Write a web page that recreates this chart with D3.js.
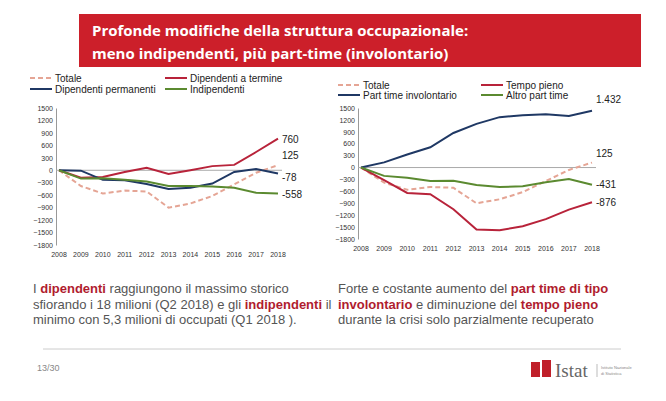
<!DOCTYPE html><html><head><meta charset="utf-8">
<script src="https://cdn.jsdelivr.net/npm/d3@7"></script>
<style>body{margin:0;background:#fff;font-family:"Liberation Sans",Arial,sans-serif}</style></head><body>
<svg id="s" width="666" height="401"></svg>
<script>
const years=[2008,2009,2010,2011,2012,2013,2014,2015,2016,2017,2018];
const yTicks=[1500,1200,900,600,300,0,-300,-600,-900,-1200,-1500,-1800];
const totale=[0,-380,-560,-490,-510,-900,-800,-620,-340,-60,125];
const dipTermine=[0,-180,-160,-40,60,-90,0,100,130,440,760];
const dipPermanenti=[0,-10,-230,-240,-330,-450,-420,-320,-40,30,-78];
const indipendenti=[0,-200,-190,-230,-270,-380,-380,-390,-420,-540,-558];
const tempoPieno=[0,-320,-640,-670,-1050,-1560,-1580,-1480,-1300,-1060,-876];
const ptInvol=[0,130,330,510,870,1100,1270,1320,1340,1300,1432];
const altroPT=[0,-210,-260,-340,-330,-440,-490,-470,-370,-290,-431];
const RED="#b8233a",BLUE="#1f3864",GREEN="#5b8a30",PINK="#e5a595";
const svg=d3.select("#s");
svg.append("rect").attr("x",79).attr("y",14).attr("width",562).attr("height",53).attr("fill","#cc1f2a");
svg.append("text").attr("x",92).attr("y",36).attr("fill","#fff").attr("font-family","Open Sans").attr("font-weight","bold").attr("font-size",15).text("Profonde modifiche della struttura occupazionale:");
svg.append("text").attr("x",92).attr("y",59).attr("fill","#fff").attr("font-family","Open Sans").attr("font-weight","bold").attr("font-size",15).text("meno indipendenti, più part-time (involontario)");

function chart(x0,x1,y0,y1,series,legend,labels){
  const x=d3.scalePoint().domain(years).range([x0,x1]);
  const y=d3.scaleLinear().domain([-1800,1500]).range([y1,y0]);
  const g=svg.append("g");
  const ax=g.append("g").attr("transform",`translate(${x0-3},0)`).call(d3.axisLeft(y).tickValues(yTicks).tickFormat(d3.format("d")).tickSize(0).tickPadding(3));
  ax.select(".domain").attr("stroke","#999");
  ax.selectAll("text").attr("font-size",7).attr("fill","#333");
  g.append("line").attr("x1",x0-3).attr("x2",x1+4).attr("y1",y(0)).attr("y2",y(0)).attr("stroke","#aaa");
  g.selectAll(".yl").data(years).join("text").attr("x",d=>x(d)).attr("y",y1+12).attr("text-anchor","middle").attr("font-size",7).attr("fill","#333").text(d=>d);
  const line=d3.line().x((d,i)=>x(years[i])).y(d=>y(d));
  series.forEach(s=>g.append("path").attr("d",line(s.v)).attr("fill","none").attr("stroke",s.c).attr("stroke-width",2).attr("stroke-dasharray",s.dash?"5,3":null));
  legend.forEach(l=>{g.append("line").attr("x1",l.x).attr("x2",l.x+22).attr("y1",l.y).attr("y2",l.y).attr("stroke",l.c).attr("stroke-width",2).attr("stroke-dasharray",l.dash?"5,3":null);
    g.append("text").attr("x",l.x+25).attr("y",l.y+3.5).attr("font-size",10).attr("fill","#222").text(l.t);});
  labels.forEach(l=>g.append("text").attr("x",x(2018)+4).attr("y",y(l.v)+l.dy).attr("font-size",10).attr("fill","#222").text(l.t));
}
chart(59,278,108,245,[{v:totale,c:PINK,dash:1},{v:dipTermine,c:RED},{v:dipPermanenti,c:BLUE},{v:indipendenti,c:GREEN}],
 [{x:30,y:78,c:PINK,dash:1,t:"Totale"},{x:165,y:78,c:RED,t:"Dipendenti a termine"},{x:30,y:89,c:BLUE,t:"Dipendenti permanenti"},{x:165,y:89,c:GREEN,t:"Indipendenti"}],
 [{v:760,t:"760",dy:4},{v:125,t:"125",dy:-6},{v:-78,t:"-78",dy:7},{v:-558,t:"-558",dy:5}]);
chart(361,592,108,239,[{v:totale,c:PINK,dash:1},{v:tempoPieno,c:RED},{v:ptInvol,c:BLUE},{v:altroPT,c:GREEN}],
 [{x:338,y:85,c:PINK,dash:1,t:"Totale"},{x:481,y:85,c:RED,t:"Tempo pieno"},{x:338,y:95,c:BLUE,t:"Part time involontario"},{x:481,y:95,c:GREEN,t:"Altro part time"}],
 [{v:1432,t:"1.432",dy:-8},{v:125,t:"125",dy:-6},{v:-431,t:"-431",dy:3},{v:-876,t:"-876",dy:4}]);

function para(x,y,parts){
  parts.forEach((line,i)=>{const t=svg.append("text").attr("x",x).attr("y",y+i*15.5).attr("font-size",13).attr("fill","#555");
    line.forEach(p=>t.append("tspan").attr("fill",p[1]?"#b01c2e":"#555").attr("font-weight",p[1]?"bold":null).text(p[0]));});
}
para(33,293,[[["I "],["dipendenti",1],[" raggiungono il massimo storico"]],[["sfiorando i 18 milioni (Q2 2018) e gli "],["indipendenti",1],[" il"]],[["minimo con 5,3 milioni di occupati (Q1 2018 )."]]]);
para(338,293,[[["Forte e costante aumento del "],["part time di tipo",1]],[["involontario",1],[" e diminuzione del "],["tempo pieno",1]],[["durante la crisi solo parzialmente recuperato"]]]);
svg.append("line").attr("x1",43).attr("x2",621).attr("y1",349).attr("y2",349).attr("stroke","#ccc");
svg.append("text").attr("x",37).attr("y",371).attr("font-size",9).attr("fill","#888").text("13/30");
svg.append("rect").attr("x",531).attr("y",362).attr("width",9).attr("height",15).attr("fill","#c0202a");
svg.append("rect").attr("x",542).attr("y",360).attr("width",9).attr("height",17).attr("fill","#c0202a");
svg.append("text").attr("x",555).attr("y",377).attr("font-family","Liberation Serif").attr("font-size",19).attr("fill","#666").text("Istat");
svg.append("line").attr("x1",597).attr("x2",597).attr("y1",364).attr("y2",377).attr("stroke","#bbb");
svg.append("text").attr("x",601).attr("y",369).attr("font-size",4).attr("fill","#888").text("Istituto Nazionale");
svg.append("text").attr("x",601).attr("y",375).attr("font-size",4).attr("fill","#888").text("di Statistica");
</script></body></html>
